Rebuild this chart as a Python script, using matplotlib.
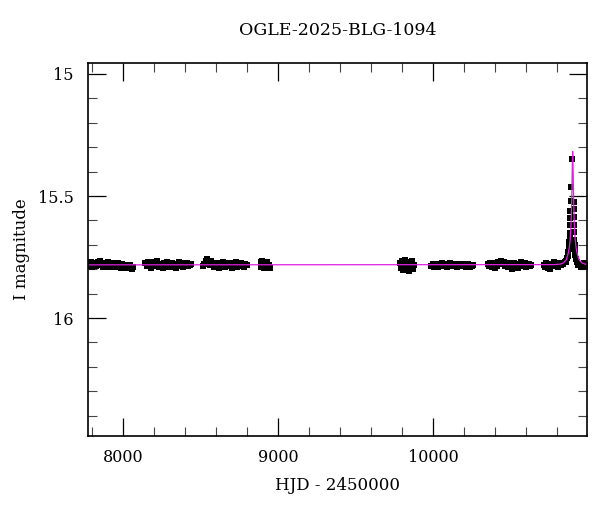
import numpy as np
import matplotlib
matplotlib.use("Agg")
import matplotlib.pyplot as plt
from matplotlib.ticker import MultipleLocator

plt.rcParams['font.family'] = ['DejaVu Serif']

title = "OGLE-2025-BLG-1094"

# observing seasons: HJD - 2450000 and I magnitude
s1_t = [7779, 7786, 7795, 7803, 7811, 7820, 7828, 7836, 7845, 7853, 7861, 7870, 7878, 7887, 7895, 7903, 7912, 7920,
        7929, 7937, 7946, 7954, 7962, 7971, 7980, 7988, 7997, 8005, 8014, 8022, 8031, 8040, 8048, 8057, 8066]
s1_m = [15.778, 15.785, 15.772, 15.790, 15.781, 15.776, 15.788, 15.770, 15.783, 15.768, 15.779, 15.792, 15.774, 15.786,
        15.780, 15.771, 15.789, 15.777, 15.784, 15.773, 15.791, 15.779, 15.786, 15.775, 15.782, 15.794, 15.778, 15.788,
        15.781, 15.796, 15.785, 15.792, 15.783, 15.798, 15.789]

s2_t = [8145, 8153, 8162, 8170, 8179, 8188, 8196, 8205, 8213, 8222, 8231, 8239, 8248, 8257, 8265, 8274, 8283, 8291,
        8300, 8309, 8317, 8326, 8335, 8343, 8352, 8361, 8369, 8378, 8387, 8395, 8404, 8413, 8421, 8430, 8438]
s2_m = [15.776, 15.788, 15.770, 15.782, 15.793, 15.779, 15.772, 15.786, 15.781, 15.767, 15.790, 15.777, 15.784, 15.795,
        15.775, 15.783, 15.771, 15.789, 15.780, 15.792, 15.774, 15.785, 15.778, 15.796, 15.782, 15.770, 15.787, 15.779,
        15.791, 15.776, 15.784, 15.773, 15.788, 15.781, 15.779]

s3_t = [8517, 8525, 8534, 8542, 8551, 8559, 8568, 8576, 8585, 8593, 8602, 8610, 8619, 8627, 8636, 8644, 8653, 8661,
        8670, 8678, 8687, 8695, 8704, 8712, 8721, 8729, 8738, 8746, 8755, 8763, 8772, 8780, 8789, 8797]
s3_m = [15.785, 15.777, 15.768, 15.760, 15.772, 15.783, 15.765, 15.779, 15.790, 15.774, 15.786, 15.781, 15.793, 15.776,
        15.788, 15.770, 15.784, 15.791, 15.779, 15.773, 15.787, 15.780, 15.794, 15.776, 15.783, 15.771, 15.789, 15.778,
        15.785, 15.774, 15.782, 15.790, 15.777, 15.784]

s4_t = [8887, 8893, 8899, 8905, 8912, 8918, 8925, 8932, 8939, 8945]
s4_m = [15.772, 15.790, 15.765, 15.783, 15.796, 15.776, 15.788, 15.769, 15.781, 15.793]

s5_t = [9786, 9792, 9798, 9804, 9810, 9816, 9822, 9829, 9835, 9842, 9848, 9855, 9861, 9868, 9874]
s5_m = [15.775, 15.795, 15.768, 15.803, 15.781, 15.762, 15.797, 15.786, 15.771, 15.806, 15.779, 15.790, 15.766,
        15.799, 15.784]

s6_t = [9988, 9997, 10005, 10014, 10022, 10031, 10040, 10048, 10057, 10066, 10074, 10083, 10092, 10100, 10109, 10118,
        10126, 10135, 10144, 10152, 10161, 10170, 10178, 10187, 10196, 10204, 10213, 10222, 10230, 10239, 10248, 10256]
s6_m = [15.786, 15.780, 15.791, 15.777, 15.784, 15.789, 15.779, 15.785, 15.775, 15.788, 15.782, 15.778, 15.790, 15.784,
        15.776, 15.787, 15.781, 15.786, 15.779, 15.791, 15.783, 15.777, 15.788, 15.782, 15.786, 15.780, 15.789, 15.778,
        15.784, 15.791, 15.785, 15.781]

s7_t = [10353, 10362, 10370, 10379, 10387, 10396, 10404, 10413, 10421, 10430, 10438, 10447, 10455, 10464, 10472, 10481,
        10489, 10498, 10506, 10515, 10523, 10532, 10540, 10549, 10557, 10566, 10574, 10583, 10591, 10600, 10608, 10617,
        10625, 10631]
s7_m = [15.779, 15.788, 15.773, 15.790, 15.783, 15.795, 15.776, 15.786, 15.769, 15.780, 15.765, 15.776, 15.770, 15.787,
        15.779, 15.792, 15.774, 15.785, 15.797, 15.781, 15.773, 15.789, 15.778, 15.794, 15.783, 15.771, 15.788, 15.780,
        15.776, 15.791, 15.784, 15.778, 15.787, 15.781]

# last season, including the event
s8_t = [10715, 10723, 10731, 10740, 10748, 10757, 10765, 10774, 10782, 10790, 10799, 10807, 10815, 10824, 10832, 10840,
        10848, 10855, 10860, 10864, 10868, 10871, 10874, 10877, 10879, 10881, 10883, 10884, 10885, 10886, 10887, 10891,
        10894, 10906, 10907, 10908, 10909, 10910, 10911, 10913, 10915, 10918, 10922, 10927, 10935, 10943, 10951, 10959,
        10967, 10975, 10983, 10991, 10998]
s8_m = [15.781, 15.790, 15.776, 15.794, 15.784, 15.798, 15.779, 15.788, 15.772, 15.785, 15.780, 15.791, 15.776, 15.783,
        15.774, 15.779, 15.770, 15.772, 15.765, 15.752, 15.744, 15.730, 15.718, 15.705, 15.690, 15.676, 15.650, 15.617,
        15.590, 15.562, 15.521, 15.462, 15.347, 15.525, 15.555, 15.588, 15.617, 15.648, 15.680, 15.700, 15.720, 15.742,
        15.760, 15.772, 15.784, 15.778, 15.790, 15.781, 15.787, 15.776, 15.792, 15.783, 15.788]

# model curve
model_t = [7772, 10780, 10820, 10840, 10858, 10870, 10878, 10884, 10888, 10891, 10894, 10896, 10898, 10900,
           10902, 10904, 10906, 10909, 10912, 10916, 10922, 10930, 10942, 10960, 10980, 11000]
model_m = [15.782, 15.781, 15.779, 15.774, 15.762, 15.738, 15.712, 15.678, 15.635, 15.585, 15.510, 15.440, 15.362,
           15.318, 15.362, 15.440, 15.510, 15.585, 15.635, 15.678, 15.712, 15.738, 15.762, 15.774, 15.779, 15.781]

seasons = [(s1_t, s1_m), (s2_t, s2_m), (s3_t, s3_m), (s4_t, s4_m),
           (s5_t, s5_m), (s6_t, s6_m), (s7_t, s7_m), (s8_t, s8_m)]

fig = plt.figure(figsize=(6, 5.12), dpi=100)
ax = fig.add_axes([0.146, 0.148, 0.833, 0.729])

for t, m in seasons:
    ax.plot(t, m, 's', color='black', markersize=4.4, markeredgewidth=0)
ax.plot(model_t, model_m, '-', color='#e020e0', lw=0.9)

ax.set_xlim(7772, 10995)
ax.set_ylim(16.484, 14.955)

ax.xaxis.set_major_locator(MultipleLocator(1000))
ax.xaxis.set_minor_locator(MultipleLocator(200))
ax.yaxis.set_major_locator(MultipleLocator(0.5))
ax.yaxis.set_minor_locator(MultipleLocator(0.1))
ax.yaxis.set_major_formatter(matplotlib.ticker.FuncFormatter(lambda v, p: "%g" % v))

ax.tick_params(which='both', direction='in', top=True, right=True, labelsize=11.5)
ax.tick_params(which='major', length=13, width=0.9)
ax.tick_params(which='minor', length=6.5, width=0.8, color='#444444')
ax.tick_params(axis='x', pad=9)
ax.tick_params(axis='y', pad=10)
for sp in ax.spines.values():
    sp.set_linewidth(1.2)

ax.set_title(title, fontsize=12.5, pad=20)
ax.set_xlabel("HJD - 2450000", fontsize=12, labelpad=8)
ax.set_ylabel("I magnitude", fontsize=12, labelpad=6)

fig.savefig("out.png", dpi=100)
